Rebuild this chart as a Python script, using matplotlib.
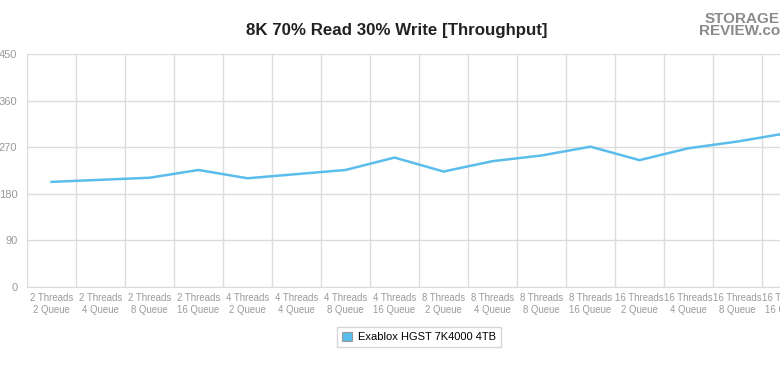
import matplotlib.pyplot as plt
import numpy as np

plt.rcParams["font.family"] = ["Liberation Sans", "DejaVu Sans"]

threads = [2, 2, 2, 2, 4, 4, 4, 4, 8, 8, 8, 8, 16, 16, 16, 16]
queues = [2, 4, 8, 16, 2, 4, 8, 16, 2, 4, 8, 16, 2, 4, 8, 16]
labels = [f"{t} Threads\n{q} Queue" for t, q in zip(threads, queues)]
throughput = [203, 207, 211, 226, 210, 218, 226, 250,
              223, 243, 254, 271, 245, 268, 281, 297]
series_name = "Exablox HGST 7K4000 4TB"
yticks = [0, 90, 180, 270, 360, 450]

line_color = "#5bbdec"
grid_color = "#dcdcdc"
text_color = "#9a9a9a"

fig = plt.figure(figsize=(7.8, 3.75), dpi=100)
ax = fig.add_axes([27 / 780, 88 / 375, 784 / 780, 233 / 375])

x = np.arange(len(throughput))
ax.plot(x, throughput, color=line_color, linewidth=1.8, label=series_name)

ax.set_xlim(-0.5, len(throughput) - 0.5)
ax.set_ylim(0, 450)
ax.set_yticks(yticks)
ax.set_xticks(x)
ax.set_xticklabels(labels, fontsize=6.9, color=text_color, linespacing=1.35)
ax.set_xticks(np.arange(-0.5, len(throughput)), minor=True)
ax.tick_params(axis="x", which="both", length=0, pad=4)
ax.tick_params(axis="y", length=0, pad=7, labelsize=8, labelcolor=text_color)

ax.grid(axis="y", color=grid_color, linewidth=1)
ax.grid(axis="x", which="minor", color=grid_color, linewidth=1)
ax.set_axisbelow(True)
for side in ["top", "right"]:
    ax.spines[side].set_visible(False)
for side in ["left", "bottom"]:
    ax.spines[side].set_color(grid_color)

fig.text(397 / 780, 1 - 30 / 375, "8K 70% Read 30% Write [Throughput]",
         ha="center", va="center", fontsize=12.2, fontweight="bold", color="#222222")

# logo stand-in
fig.text(780 / 780, 1 - 25 / 375, "STORAGE\nREVIEW.co", ha="right", va="center",
         fontsize=11, fontweight="bold", color="#8a8a8a", linespacing=0.9)

handle = plt.Rectangle((0, 0), 1, 1, facecolor=line_color, edgecolor="#999999", linewidth=0.8)
leg = fig.legend([handle], [series_name], loc="center", bbox_to_anchor=(419 / 780, 1 - 337 / 375),
                 fontsize=8, frameon=True, fancybox=False, handlelength=0.9, handleheight=0.9,
                 handletextpad=0.5, borderpad=0.45)
leg.get_frame().set_edgecolor("#cccccc")
leg.get_frame().set_linewidth(1)

fig.savefig("out.png", dpi=100)
